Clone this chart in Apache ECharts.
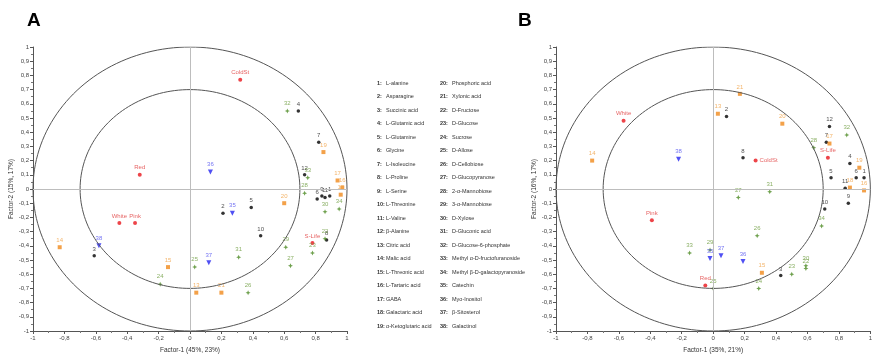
<!DOCTYPE html>
<html>
<head>
<meta charset="utf-8">
<script src="https://cdn.jsdelivr.net/npm/echarts@6/dist/echarts.min.js"></script>
<style>
html, body { margin: 0; padding: 0; background: #fff; }
#chart { width: 875px; height: 359px; }
</style>
</head>
<body>
<div id="chart"></div>
<script>
// compound list (index + 1 = number on the plots)
const compoundNames = [
  'L-alanine', 'Asparagine', 'Succinic acid', 'L-Glutamic acid', 'L-Glutamine', 'Glycine',
  'L-Isoleucine', 'L-Proline', 'L-Serine', 'L-Threonine', 'L-Valine', 'β-Alanine',
  'Citric acid', 'Malic acid', 'L-Threonic acid', 'L-Tartaric acid', 'GABA', 'Galactaric acid',
  'α-Ketoglutaric acid', 'Phosphoric acid', 'Xylonic acid', 'D-Fructose', 'D-Glucose', 'Sucrose',
  'D-Allose', 'D-Cellobiose', 'D-Glucopyranose', '2-α-Mannobiose', '3-α-Mannobiose', 'D-Xylose',
  'D-Gluconic acid', 'D-Glucose-6-phosphate', 'Methyl α-D-fructofuranoside',
  'Methyl β-D-galactopyranoside', 'Catechin', 'Myo-Inositol', 'β-Sitosterol', 'Galactinol'
];

// panel A loadings
const aLoadX = [0.89, 0.21, -0.61, 0.69, 0.39, 0.81, 0.82, 0.87, 0.84, 0.45, 0.86, 0.73,
  0.04, -0.83, -0.14, 0.97, 0.94, 0.96, 0.85, 0.60, 0.20, 0.86, 0.78, -0.19, 0.03, 0.37,
  0.64, 0.73, 0.61, 0.86, 0.31, 0.62, 0.75, 0.95, 0.27, 0.13, 0.12, -0.58];
const aLoadY = [-0.05, -0.17, -0.47, 0.55, -0.13, -0.07, 0.33, -0.36, -0.05, -0.33, -0.06, 0.10,
  -0.73, -0.41, -0.55, 0.01, 0.06, -0.04, 0.26, -0.10, -0.73, -0.35, -0.45, -0.67, -0.55, -0.73,
  -0.54, -0.03, -0.41, -0.16, -0.48, 0.55, 0.08, -0.14, -0.17, 0.12, -0.52, -0.40];

// panel B loadings
const bLoadX = [0.96, 0.085, 0.43, 0.87, 0.75, 0.91, 0.72, 0.19, 0.86, 0.71, 0.84, 0.74,
  0.03, -0.77, 0.31, 0.96, 0.74, 0.87, 0.93, 0.44, 0.17, 0.59, 0.50, 0.29, 0.00, 0.28,
  0.16, 0.64, -0.02, 0.59, 0.36, 0.85, -0.15, 0.69, -0.02, 0.19, 0.05, -0.22];
const bLoadY = [0.08, 0.51, -0.61, 0.18, 0.08, 0.08, 0.33, 0.22, -0.10, -0.14, 0.005, 0.44,
  0.53, 0.20, -0.59, -0.01, 0.32, 0.01, 0.15, 0.46, 0.67, -0.56, -0.60, -0.70, -0.70, -0.33,
  -0.06, 0.29, -0.43, -0.54, -0.02, 0.38, -0.45, -0.26, -0.49, -0.51, -0.47, 0.21];

// observations
const sampleNames = ['Red', 'White', 'Pink', 'ColdSt', 'S-Life'];
const aSampleX = [-0.32, -0.45, -0.35, 0.32, 0.78];
const aSampleY = [0.10, -0.24, -0.24, 0.77, -0.38];
const bSampleX = [-0.05, -0.57, -0.39, 0.27, 0.73];
const bSampleY = [-0.68, 0.48, -0.22, 0.20, 0.22];

const xAxisNames = ['Factor-1 (45%, 23%)', 'Factor-1 (35%, 21%)'];
const yAxisNames = ['Factor-2 (15%, 17%)', 'Factor-2 (16%, 17%)'];
const panelLetters = ['A', 'B'];

const star = 'path://M0,-1L0.3,-0.3L1,0L0.3,0.3L0,1L-0.3,0.3L-1,0L-0.3,-0.3Z';
const groups = [
  { from: 1, to: 12, color: '#000000', text: '#222222', symbol: 'circle', size: 3.5 },
  { from: 13, to: 21, color: '#f08a1c', text: '#f0a043', symbol: 'rect', size: 4 },
  { from: 22, to: 34, color: '#4b8a22', text: '#6b9b3c', symbol: star, size: 5 },
  { from: 35, to: 38, color: '#2424f0', text: '#5050f0', symbol: 'triangle', size: 5, rotate: 180 }
];

const fmt = v => String(+(+v).toFixed(1)).replace('.', ',');

function circle(r) {
  const pts = [];
  for (let d = 0; d <= 360; d += 2) {
    const t = d * Math.PI / 180;
    pts.push([r * Math.cos(t), r * Math.sin(t)]);
  }
  return pts;
}

function labelStyle(color) {
  return { show: true, position: 'top', distance: 2, formatter: '{b}',
    fontSize: 6, fontFamily: 'Arial', color: color };
}

const grids = [
  { left: 33, top: 47, width: 314, height: 289 },
  { left: 556, top: 47, width: 324, height: 288 }
];
const yNameGap = [12, 15];

const xAxes = [], yAxes = [], series = [];

[0, 1].forEach(p => {
  const lx = p === 0 ? aLoadX : bLoadX;
  const ly = p === 0 ? aLoadY : bLoadY;
  const sx = p === 0 ? aSampleX : bSampleX;
  const sy = p === 0 ? aSampleY : bSampleY;

  xAxes.push({
    gridIndex: p, type: 'value', min: -1, max: 1, interval: 0.2,
    name: xAxisNames[p], nameLocation: 'middle', nameGap: 16,
    nameTextStyle: { fontSize: 6.5, color: '#333', fontFamily: 'Arial' },
    axisLine: { onZero: false, lineStyle: { color: '#555' } },
    axisTick: { length: 3, lineStyle: { color: '#555' } },
    minorTick: { show: true, splitNumber: 2, length: 2, lineStyle: { color: '#777' } },
    axisLabel: { fontSize: 6, color: '#444', margin: 4, formatter: fmt, fontFamily: 'Arial' },
    splitLine: { show: false }
  });
  yAxes.push({
    gridIndex: p, type: 'value', min: -1, max: 1, interval: 0.1,
    name: yAxisNames[p], nameLocation: 'middle', nameGap: yNameGap[p],
    nameTextStyle: { fontSize: 6.5, color: '#333', fontFamily: 'Arial' },
    axisLine: { onZero: false, lineStyle: { color: '#555' } },
    axisTick: { length: 3, lineStyle: { color: '#555' } },
    minorTick: { show: true, splitNumber: 2, length: 2, lineStyle: { color: '#777' } },
    axisLabel: { fontSize: 6, color: '#444', margin: 4, formatter: fmt, fontFamily: 'Arial' },
    splitLine: { show: false }
  });

  [1, 0.7].forEach((r, k) => {
    const s = {
      type: 'line', xAxisIndex: p, yAxisIndex: p, data: circle(r),
      showSymbol: false, silent: true, lineStyle: { color: '#555', width: 1 }
    };
    if (k === 0) {
      s.markLine = {
        silent: true, symbol: 'none', label: { show: false },
        lineStyle: { color: '#bdbdbd', width: 1, type: 'solid' },
        data: [{ xAxis: 0 }, { yAxis: 0 }]
      };
    }
    series.push(s);
  });

  groups.forEach(g => {
    const data = [];
    for (let n = g.from; n <= g.to; n++) {
      data.push({ name: String(n), value: [lx[n - 1], ly[n - 1]] });
    }
    series.push({
      type: 'scatter', xAxisIndex: p, yAxisIndex: p, data: data,
      symbol: g.symbol, symbolSize: g.size, symbolRotate: g.rotate || 0,
      itemStyle: { color: g.color }, label: labelStyle(g.text)
    });
  });

  series.push({
    type: 'scatter', xAxisIndex: p, yAxisIndex: p,
    data: sampleNames.map((nm, i) => {
      const d = { name: nm, value: [sx[i], sy[i]] };
      if (p === 1 && nm === 'ColdSt') d.label = { position: 'right', distance: 2 };
      return d;
    }),
    symbol: 'circle', symbolSize: 4,
    itemStyle: { color: '#e8151c' }, label: labelStyle('#e03a3a')
  });
});

// compound legend in the middle
const graphics = [];
panelLetters.forEach((t, p) => {
  graphics.push({ type: 'text', left: p === 0 ? 27 : 518, top: 11,
    style: { text: t, font: 'bold 19px Arial', fill: '#000' } });
});
compoundNames.forEach((nm, i) => {
  const col = i < 19 ? 0 : 1;
  const row = i % 19;
  const y = 80 + row * 13.5;
  graphics.push({ type: 'text', x: col === 0 ? 377 : 440, y: y,
    style: { text: (i + 1) + ':', font: 'bold 5.5px Arial', fill: '#333' } });
  graphics.push({ type: 'text', x: col === 0 ? 386 : 452, y: y,
    style: { text: nm, font: '5.5px Arial', fill: '#333' } });
});

const chart = echarts.init(document.getElementById('chart'));
chart.setOption({
  animation: false,
  grid: grids,
  xAxis: xAxes,
  yAxis: yAxes,
  series: series,
  graphic: graphics
});
</script>
</body>
</html>
